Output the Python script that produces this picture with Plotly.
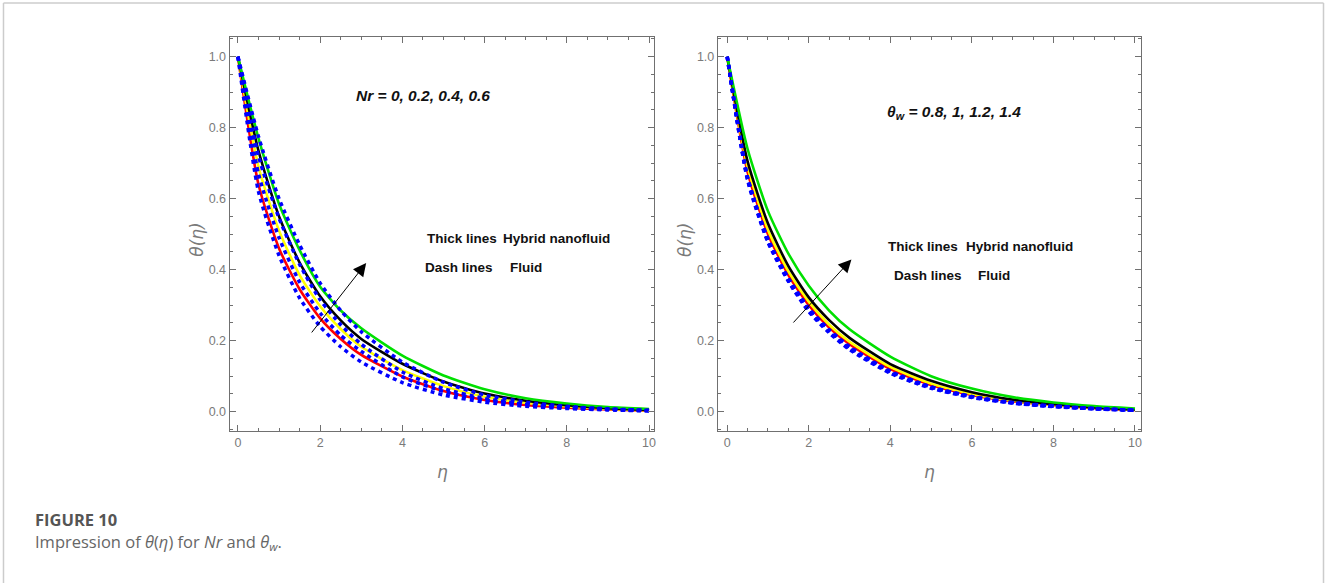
import plotly.graph_objects as go

# ---------------- data ----------------
eta = [0, 0.5, 1, 1.5, 2, 2.5, 3, 4, 5, 6, 7, 8, 9, 10]

# Left panel: Nr = 0, 0.2, 0.4, 0.6  (hybrid nanofluid, thick lines)
nr_labels = ["Nr = 0", "Nr = 0.2", "Nr = 0.4", "Nr = 0.6"]
nr_hybrid = [
    [1.0, 0.64, 0.46, 0.345, 0.263, 0.205, 0.16, 0.099, 0.058, 0.033, 0.019, 0.011, 0.006, 0.003],
    [1.0, 0.69, 0.51, 0.385, 0.297, 0.233, 0.183, 0.117, 0.072, 0.042, 0.025, 0.015, 0.008, 0.004],
    [1.0, 0.735, 0.55, 0.42, 0.325, 0.257, 0.205, 0.135, 0.085, 0.051, 0.031, 0.018, 0.01, 0.005],
    [1.0, 0.77, 0.585, 0.455, 0.352, 0.285, 0.235, 0.158, 0.102, 0.063, 0.038, 0.023, 0.013, 0.0075],
]
nr_fluid = [
    [1.0, 0.62, 0.44, 0.32, 0.24, 0.183, 0.14, 0.082, 0.047, 0.027, 0.015, 0.009, 0.005, 0.002],
    [1.0, 0.67, 0.49, 0.365, 0.278, 0.215, 0.17, 0.098, 0.057, 0.033, 0.019, 0.011, 0.006, 0.003],
    [1.0, 0.72, 0.545, 0.415, 0.315, 0.245, 0.19, 0.112, 0.065, 0.037, 0.021, 0.012, 0.007, 0.003],
    [1.0, 0.775, 0.60, 0.47, 0.362, 0.285, 0.225, 0.14, 0.083, 0.047, 0.027, 0.015, 0.008, 0.004],
]

# Right panel: theta_w = 0.8, 1, 1.2, 1.4
tw_labels = ["θw = 0.8", "θw = 1", "θw = 1.2", "θw = 1.4"]
tw_hybrid = [
    [1.0, 0.675, 0.50, 0.385, 0.30, 0.237, 0.19, 0.12, 0.075, 0.047, 0.029, 0.018, 0.01, 0.005],
    [1.0, 0.69, 0.512, 0.395, 0.31, 0.245, 0.197, 0.126, 0.079, 0.05, 0.031, 0.019, 0.011, 0.005],
    [1.0, 0.705, 0.53, 0.41, 0.322, 0.258, 0.208, 0.134, 0.087, 0.055, 0.034, 0.021, 0.012, 0.006],
    [1.0, 0.74, 0.565, 0.445, 0.355, 0.285, 0.232, 0.155, 0.10, 0.065, 0.041, 0.026, 0.016, 0.009],
]
tw_fluid = [
    [1.0, 0.652, 0.477, 0.367, 0.282, 0.222, 0.175, 0.108, 0.066, 0.04, 0.024, 0.014, 0.008, 0.004],
    [1.0, 0.655, 0.48, 0.37, 0.285, 0.225, 0.178, 0.11, 0.068, 0.041, 0.025, 0.015, 0.008, 0.004],
    [1.0, 0.658, 0.483, 0.373, 0.288, 0.228, 0.18, 0.112, 0.069, 0.042, 0.025, 0.015, 0.009, 0.004],
    [1.0, 0.661, 0.486, 0.376, 0.291, 0.231, 0.183, 0.114, 0.07, 0.043, 0.026, 0.016, 0.009, 0.004],
]

solid_colors = ["#ff0000", "#ffff00", "#000000", "#00e000"]
fluid_color = "#0000ff"

W, H = 1327, 583

fig = go.Figure()

def add_panel(hyb, flu, labels, xa, ya):
    for vals, c, lab in zip(hyb, solid_colors, labels):
        fig.add_trace(go.Scatter(x=eta, y=vals, mode="lines", name=lab,
                                 line=dict(color=c, width=2.6, shape="spline", smoothing=0.6),
                                 xaxis=xa, yaxis=ya, showlegend=False))
    for vals, lab in zip(flu, labels):
        fig.add_trace(go.Scatter(x=eta, y=vals, mode="lines", name=lab + " (fluid)",
                                 line=dict(color=fluid_color, width=3.5, dash="4px,4px",
                                           shape="spline", smoothing=0.6),
                                 xaxis=xa, yaxis=ya, showlegend=False))

add_panel(nr_hybrid, nr_fluid, nr_labels, "x", "y")
add_panel(tw_hybrid, tw_fluid, tw_labels, "x2", "y2")

SANS = "Liberation Sans, Arial"
tickfont = dict(family=SANS, size=12.5, color="#7a7a7a")
axis_common = dict(showgrid=False, zeroline=False, showline=True, linecolor="#707070", linewidth=1.2,
                   mirror="ticks", ticks="inside", ticklen=6, tickwidth=1, tickcolor="#707070",
                   tickfont=tickfont)

def px_x(p):
    return p / W

def px_y(p):
    return 1 - p / H

xticks = [0, 2, 4, 6, 8, 10]
xtick_text = ["0", "2", "4", "6", "8", "10"]
yticks = [0, 0.2, 0.4, 0.6, 0.8, 1.0]
ytick_text = ["0.0", "0.2", "0.4", "0.6", "0.8", "1.0"]

fig.update_layout(
    width=W, height=H, margin=dict(l=0, r=0, t=0, b=0),
    paper_bgcolor="white", plot_bgcolor="white",
    xaxis=dict(domain=[px_x(230), px_x(655)], range=[-0.2016, 10.121], tickmode="array",
               tickvals=xticks, ticktext=xtick_text,
               minor=dict(ticks="inside", dtick=0.5, ticklen=3, tickcolor="#707070"),
               anchor="y", **axis_common),
    yaxis=dict(domain=[px_y(431), px_y(37)], range=[-0.0544, 1.0555], tickmode="array",
               tickvals=yticks, ticktext=ytick_text,
               minor=dict(ticks="inside", dtick=0.05, ticklen=3, tickcolor="#707070"),
               anchor="x", **axis_common),
    xaxis2=dict(domain=[px_x(719), px_x(1143)], range=[-0.228, 10.154], tickmode="array",
                tickvals=xticks, ticktext=xtick_text,
                minor=dict(ticks="inside", dtick=0.5, ticklen=3, tickcolor="#707070"),
                anchor="y2", **axis_common),
    yaxis2=dict(domain=[px_y(431), px_y(37)], range=[-0.0544, 1.0555], tickmode="array",
                tickvals=yticks, ticktext=ytick_text,
                minor=dict(ticks="inside", dtick=0.05, ticklen=3, tickcolor="#707070"),
                anchor="x2", **axis_common),
)

ann = []
bold_font = dict(family=SANS, size=13.5, color="#111111")

def txt(x, y, s, font, **kw):
    d = dict(x=px_x(x), y=px_y(y), xref="paper", yref="paper", text=s, showarrow=False,
             font=font, xanchor="center", yanchor="middle")
    d.update(kw)
    ann.append(d)

# Left panel texts
txt(424, 95, "<b><i>Nr = 0, 0.2, 0.4, 0.6</i></b>", dict(family=SANS, size=15.5, color="#111111"))
txt(463, 238, "<b>Thick lines</b>", bold_font)
txt(557, 238, "<b>Hybrid nanofluid</b>", bold_font)
txt(460, 267, "<b>Dash lines</b>", bold_font)
txt(527, 267, "<b>Fluid</b>", bold_font)

# Right panel texts
txt(955, 113, "<b><i>θ<sub>w</sub> = 0.8, 1, 1.2, 1.4</i></b>", dict(family=SANS, size=15.5, color="#111111"))
txt(924, 247, "<b>Thick lines</b>", bold_font)
txt(1021, 247, "<b>Hybrid nanofluid</b>", bold_font)
txt(929, 275, "<b>Dash lines</b>", bold_font)
txt(995, 275, "<b>Fluid</b>", bold_font)

# Axis titles
lab_font = dict(family="DejaVu Sans, Liberation Sans", size=17, color="#7a7a7a")
txt(197, 240, "<i>θ(η)</i>", lab_font, textangle=-90)
txt(686, 240, "<i>θ(η)</i>", lab_font, textangle=-90)
txt(443, 472, "<i>η</i>", lab_font)
txt(931, 472, "<i>η</i>", lab_font)

# Caption
txt(33, 519, "<b>FIGURE 10</b>", dict(family="Open Sans", size=16.5, color="#555555"), xanchor="left")
txt(33, 542, "Impression of <i>θ</i>(<i>η</i>) for <i>Nr</i> and <i>θ<sub>w</sub></i>.",
    dict(family="Open Sans", size=16.5, color="#666666"), xanchor="left")

# Arrows (data coords)
ann.append(dict(x=3.119, y=0.419, ax=1.766, ay=0.219, xref="x", yref="y", axref="x", ayref="y",
                showarrow=True, arrowhead=2, arrowsize=2.6, arrowwidth=1, arrowcolor="#000000", text=""))
ann.append(dict(x=3.046, y=0.429, ax=1.59, ay=0.247, xref="x2", yref="y2", axref="x2", ayref="y2",
                showarrow=True, arrowhead=2, arrowsize=2.6, arrowwidth=1, arrowcolor="#000000", text=""))

fig.update_layout(annotations=ann)

# Outer card border
border = dict(color="#cccccc", width=1.5)
fig.add_shape(type="line", xref="paper", yref="paper", x0=px_x(3.5), x1=px_x(3.5), y0=0, y1=px_y(3), line=border)
fig.add_shape(type="line", xref="paper", yref="paper", x0=px_x(3.5), x1=px_x(1325.5), y0=px_y(3), y1=px_y(3), line=border)
fig.add_shape(type="line", xref="paper", yref="paper", x0=px_x(1325.5), x1=px_x(1325.5), y0=0, y1=px_y(3), line=border)

fig.write_html("out.html", config={"displayModeBar": False},
               post_script="document.body.style.margin='0px';")
